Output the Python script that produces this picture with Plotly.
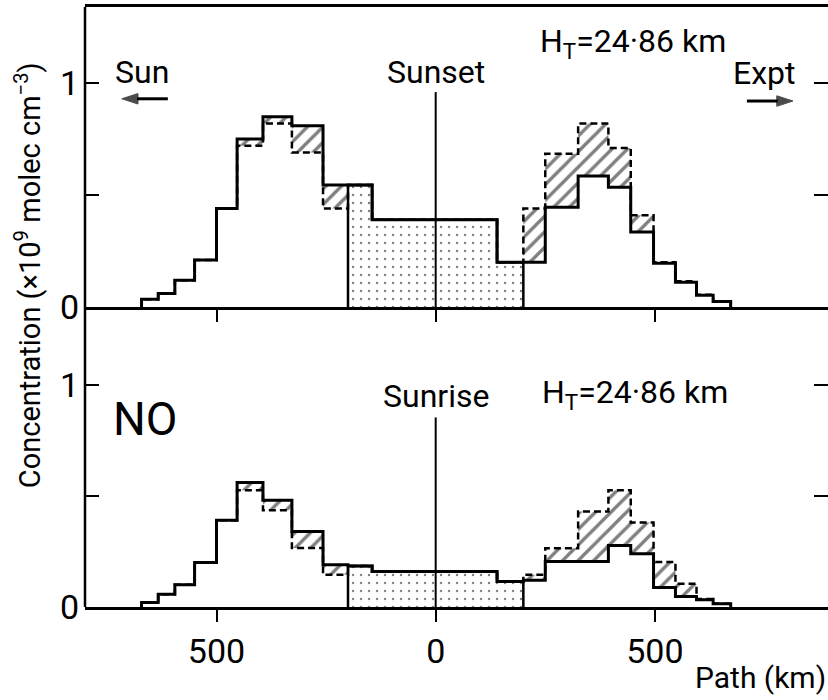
import plotly.graph_objects as go

# Path bin edges along the line of sight (km); both panels share them
edges = [-671, -633, -595, -550, -500, -453, -394, -328, -257, -200,
         -145, 140, 200, 250, 325, 394, 445, 497, 547, 595, 633, 673]

# NO concentration per bin (x1e9 molec cm^-3)
sunset_solid = [0.035, 0.06, 0.12, 0.21, 0.44, 0.75, 0.85, 0.81, 0.545, 0.545,
                0.39, 0.20, 0.20, 0.445, 0.585, 0.535, 0.335, 0.195, 0.11, 0.052, 0.025]
sunset_dashed = [0.035, 0.06, 0.12, 0.21, 0.44, 0.72, 0.82, 0.69, 0.44, 0.545,
                 0.39, 0.20, 0.44, 0.685, 0.82, 0.71, 0.41, 0.20, 0.115, 0.055, 0.025]
sunrise_solid = [0.02, 0.057, 0.10, 0.20, 0.39, 0.56, 0.48, 0.34, 0.19, 0.185,
                 0.16, 0.115, 0.12, 0.205, 0.205, 0.277, 0.24, 0.088, 0.047, 0.033, 0.015]
sunrise_dashed = [0.02, 0.057, 0.10, 0.20, 0.39, 0.525, 0.435, 0.265, 0.145, 0.185,
                  0.16, 0.115, 0.145, 0.264, 0.43, 0.525, 0.38, 0.203, 0.105, 0.036, 0.015]

# Central (stippled) section of the path
stipple_range = [-200, 200]

x_tickvals = [-500, 0, 500]
x_ticktext = ["500", "0", "500"]
y_tickvals = [0, 1]
y_ticktext = ["0", "1"]
y_minor_tickvals = [0.5]

panel_labels = {"y": "Sunset", "y2": "Sunrise"}
tangent_height = "H<sub>T</sub>=24·86 km"


def step_outline(e, v):
    """Closed step outline for bins e[i]..e[i+1] with heights v[i] (use with shape='hv')."""
    xs = [e[0]] + list(e[:-1]) + [e[-1], e[-1]]
    ys = [0.0] + list(v) + [v[-1], 0.0]
    return xs, ys


fig = go.Figure()

i0 = edges.index(stipple_range[0])
i1 = edges.index(stipple_range[1])

for xa, ya, solid, dashed in [("x", "y", sunset_solid, sunset_dashed),
                              ("x2", "y2", sunrise_solid, sunrise_dashed)]:
    # stippled central section
    sx, sy = step_outline(edges[i0:i1 + 1], solid[i0:i1])
    fig.add_trace(go.Scatter(
        x=sx, y=sy, xaxis=xa, yaxis=ya, mode="lines",
        line=dict(color="black", width=2.5, shape="hv"),
        fill="toself", fillcolor="rgba(0,0,0,0)",
        fillpattern=dict(shape=".", size=8, solidity=0.07,
                         fgcolor="black", bgcolor="white"),
        hoverinfo="skip", showlegend=False))
    # dashed profile
    dx, dy = step_outline(edges, dashed)
    fig.add_trace(go.Scatter(
        x=dx, y=dy, xaxis=xa, yaxis=ya, mode="lines",
        line=dict(color="black", width=2.5, dash="7px,4px", shape="hv"),
        hoverinfo="skip", showlegend=False))
    # solid profile, hatched where it departs from the dashed one
    ox, oy = step_outline(edges, solid)
    fig.add_trace(go.Scatter(
        x=ox, y=oy, xaxis=xa, yaxis=ya, mode="lines",
        line=dict(color="black", width=3, shape="hv"),
        fill="tonexty", fillcolor="rgba(0,0,0,0)",
        fillpattern=dict(shape="/", size=11, solidity=0.3,
                         fgcolor="black", bgcolor="rgba(0,0,0,0)"),
        hoverinfo="skip", showlegend=False))

# direction arrows (Sun to the left, experiment to the right)
for x_tail, x_head, y_arrow in [(-611, -716, 0.93), (710, 815, 0.92)]:
    fig.add_trace(go.Scatter(
        x=[x_tail, x_head], y=[y_arrow, y_arrow], xaxis="x", yaxis="y",
        mode="lines+markers", line=dict(color="black", width=3),
        marker=dict(symbol="arrow", size=[0, 17], angleref="previous",
                    color="black", line=dict(color="black", width=1)),
        hoverinfo="skip", showlegend=False))

tick_font = dict(family="Roboto", size=34, color="black")
label_font = dict(family="Roboto", size=32, color="black")

common_x = dict(range=[-800, 895], showline=True, linecolor="black", linewidth=2.5,
                ticks="outside", ticklen=12, tickwidth=2, tickcolor="black",
                tickvals=x_tickvals, ticktext=x_ticktext, tickfont=tick_font,
                showgrid=False, zeroline=False)
common_y = dict(showline=False, mirror="ticks", ticks="inside", ticklen=14,
                tickwidth=2, tickcolor="black", tickvals=y_tickvals,
                ticktext=y_ticktext, tickfont=tick_font, ticklabelstandoff=5,
                minor=dict(tickvals=y_minor_tickvals, ticks="inside", ticklen=14,
                           tickwidth=2, tickcolor="black", showgrid=False),
                showgrid=False, zeroline=False)

fig.update_layout(
    width=828, height=700,
    margin=dict(l=85, r=0, t=7, b=93),
    paper_bgcolor="white", plot_bgcolor="white",
    font=dict(family="Roboto", color="black"),
    showlegend=False,
    xaxis=dict(anchor="y", mirror=True, showticklabels=False, **common_x),
    xaxis2=dict(anchor="y2", matches="x", mirror=False, showticklabels=True, **common_x),
    yaxis=dict(domain=[0.5, 1], anchor="x", range=[0, 1.34], **common_y),
    yaxis2=dict(domain=[0, 0.5], anchor="x2", range=[0, 1.35], **common_y),
)

shapes = [
    # left frame
    dict(type="line", xref="paper", yref="paper", x0=0, x1=0, y0=0, y1=1,
         line=dict(color="black", width=2.5)),
    # path centre lines
    dict(type="line", xref="x", yref="y", x0=0, x1=0, y0=0, y1=0.96,
         line=dict(color="black", width=2)),
    dict(type="line", xref="x2", yref="y2", x0=0, x1=0, y0=0, y1=0.853,
         line=dict(color="black", width=2)),
]
fig.update_layout(shapes=shapes)

annotations = [
    dict(xref="x", yref="y", x=-670, y=1.05, text="Sun", showarrow=False,
         font=label_font, xanchor="center", yanchor="middle"),
    dict(xref="x", yref="y", x=751, y=1.046, text="Expt", showarrow=False,
         font=label_font, xanchor="center", yanchor="middle"),
    dict(xref="x", yref="y", x=0, y=1.05, text=panel_labels["y"], showarrow=False,
         font=label_font, xanchor="center", yanchor="middle"),
    dict(xref="x", yref="y", x=233, y=1.18, text=tangent_height, showarrow=False,
         font=label_font, xanchor="left", yanchor="middle"),
    dict(xref="x2", yref="y2", x=0, y=0.948, text=panel_labels["y2"], showarrow=False,
         font=label_font, xanchor="center", yanchor="middle"),
    dict(xref="x2", yref="y2", x=238, y=0.957, text=tangent_height, showarrow=False,
         font=label_font, xanchor="left", yanchor="middle"),
    dict(xref="x2", yref="y2", x=-663, y=0.844, text="NO", showarrow=False,
         font=dict(family="Roboto", size=46, color="black"),
         xanchor="center", yanchor="middle"),
    dict(xref="paper", yref="paper", x=-0.0767, y=0.553,
         text="Concentration (×10<sup>9</sup> molec cm<sup>−3</sup>)",
         textangle=-90, showarrow=False,
         font=dict(family="Roboto", size=29, color="black"),
         xanchor="center", yanchor="middle"),
    dict(xref="paper", yref="paper", x=1, y=-0.117, text="Path (km)",
         showarrow=False, font=dict(family="Roboto", size=30, color="black"),
         xanchor="right", yanchor="middle"),
]
fig.update_layout(annotations=annotations)

fig.write_html("out.html")
